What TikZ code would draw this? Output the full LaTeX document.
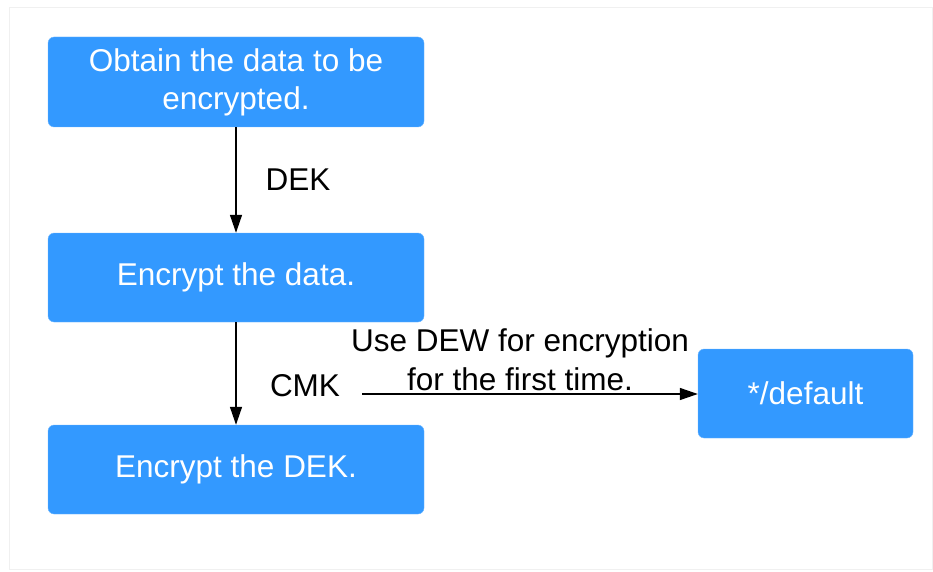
\documentclass[tikz,border=0pt]{standalone}
\usepackage{fontspec}
\setmainfont{Liberation Sans}
\usetikzlibrary{arrows.meta}
\definecolor{boxblue}{HTML}{3399FF}
\definecolor{framegray}{HTML}{F0F0F0}
\tikzset{
  procbox/.style={draw=boxblue!70!white, fill=boxblue, rounded corners=6pt, text=white, align=center,
    font=\fontsize{31.5}{38}\selectfont, inner sep=0pt},
  lbl/.style={text=black, font=\fontsize{31.5}{39}\selectfont, align=center, inner sep=0pt},
  conn/.style={draw=black, line width=1.4pt, -{Triangle[length=18pt,width=12pt]}}
}
\begin{document}
\begin{tikzpicture}[x=1pt,y=-1pt]
\useasboundingbox (0,0) rectangle (933,572);
\draw[framegray, line width=1pt] (9,8) rectangle (932,569);
\node[procbox, minimum width=376pt, minimum height=90pt] (a) at (236,82) {Obtain the data to be\\encrypted.};
\node[procbox, minimum width=376pt, minimum height=89pt] (b) at (236,277.5) {Encrypt the data.};
\node[procbox, minimum width=376pt, minimum height=89pt] (c) at (236,469.5) {Encrypt the DEK.};
\node[procbox, minimum width=215pt, minimum height=89pt] (d) at (805.5,393.5) {*/default};
\draw[conn] (a) -- (b);
\draw[conn] (b) -- (c);
\node[lbl] (l1) at (298,180) {DEK};
\node[lbl] (l2) at (305,386) {CMK};
\coordinate (hs) at (362,394);
\draw[conn] (hs) -- (d.west |- hs);
\node[lbl] (l3) at (520,360) {Use DEW for encryption\\for the first time.};
\end{tikzpicture}
\end{document}
